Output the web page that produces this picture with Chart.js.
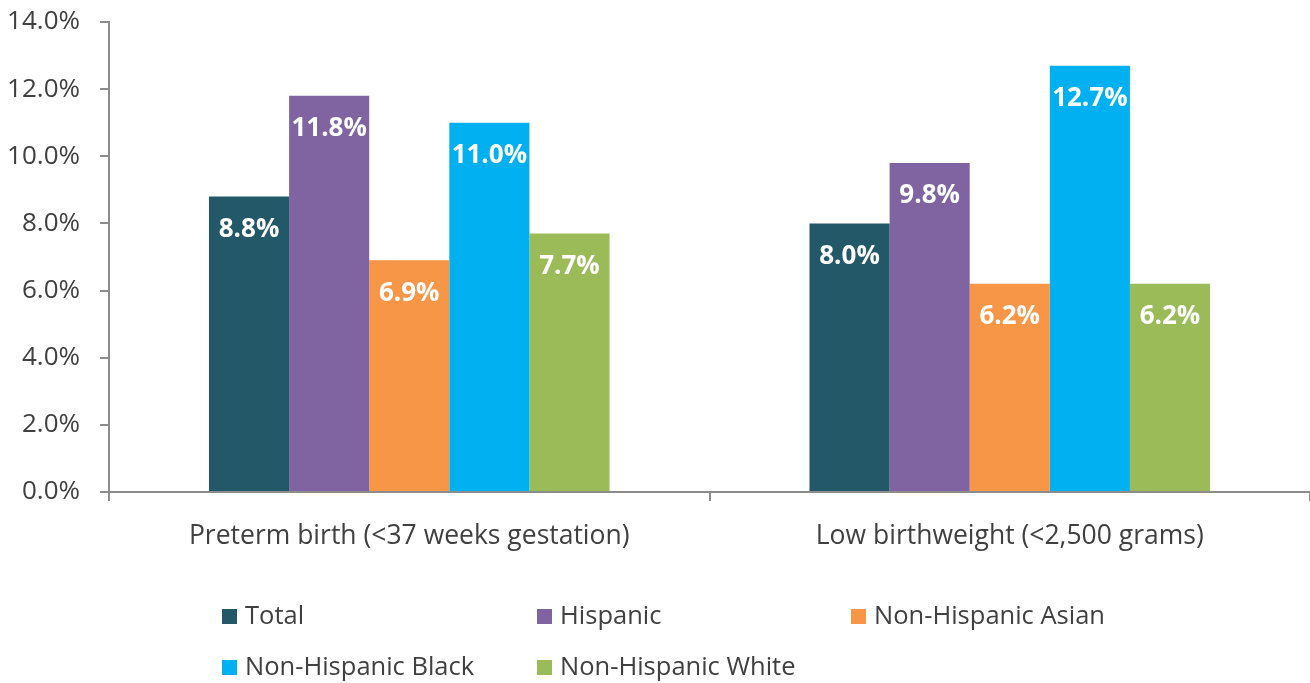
<!DOCTYPE html>
<html>
<head>
<meta charset="utf-8">
<script src="https://cdn.jsdelivr.net/npm/chart.js@4/dist/chart.umd.min.js"></script>
<style>
  body { margin:0; background:#fff; }
  #wrap { width:1310px; height:683px; }
</style>
</head>
<body>
<div id="wrap"><canvas id="birthChart" width="1310" height="683"></canvas></div>
<script>
// chart data
var categories = ['Preterm birth (<37 weeks gestation)', 'Low birthweight (<2,500 grams)'];
var seriesNames = ['Total', 'Hispanic', 'Non-Hispanic Asian', 'Non-Hispanic Black', 'Non-Hispanic White'];
var totalVals = [8.8, 8.0];
var hispanicVals = [11.8, 9.8];
var asianVals = [6.9, 6.2];
var blackVals = [11.0, 12.7];
var whiteVals = [7.7, 6.2];
var seriesColors = ['#235868', '#8064A2', '#F79646', '#00B0F0', '#9BBB59'];

var FONT = "'Open Sans', 'Noto Sans', sans-serif";
var TEXT = '#404040';
var AXIS = '#8c8c8c';

// white value labels inside bars
var barLabels = {
    id:'barLabels',
    afterDatasetsDraw:function(chart) {
        var ctx = chart.ctx;
        ctx.save();
        ctx.fillStyle = '#fff';
        ctx.font = 'bold 26px ' + FONT;
        ctx.textAlign = 'center';
        ctx.textBaseline = 'middle';
        chart.data.datasets.forEach(function(ds, i) {
            var meta = chart.getDatasetMeta(i);
            meta.data.forEach(function(bar, j) {
                ctx.fillText(ds.data[j].toFixed(1) + '%', bar.x, bar.y + 33);
            });
        });
        ctx.restore();
    }
};

// legend in a fixed grid (3 columns, 2 rows)
var gridLegend = {
    id:'gridLegend',
    afterDraw:function(chart, args, opts) {
        var ctx = chart.ctx;
        ctx.save();
        ctx.font = '25.5px ' + FONT;
        ctx.textBaseline = 'middle';
        ctx.textAlign = 'left';
        chart.data.datasets.forEach(function(ds, i) {
            var x = opts.cols[i % 3];
            var y = opts.rows[Math.floor(i / 3)];
            ctx.fillStyle = ds.backgroundColor;
            ctx.fillRect(x, y - 8, 15, 15);
            ctx.fillStyle = TEXT;
            ctx.fillText(ds.label, x + 23, y);
        });
        ctx.restore();
    }
};

var valueLists = [totalVals, hispanicVals, asianVals, blackVals, whiteVals];
var datasets = [];
for (var i = 0; i < seriesNames.length; i++) {
    datasets.push({
        label:seriesNames[i],
        data:valueLists[i],
        backgroundColor:seriesColors[i],
        borderWidth:0,
        barPercentage:1.0,
        categoryPercentage:0.667
    });
}

var birthChart = new Chart(document.getElementById('birthChart'), {
    type:'bar',
    data:{ labels:categories, datasets:datasets },
    plugins:[barLabels, gridLegend],
    options:{
        responsive:false,
        animation:false,
        layout:{ padding:{ top:22, right:0, bottom:111, left:0 } },
        plugins:{
            legend:{ display:false },
            tooltip:{ enabled:false },
            gridLegend:{ cols:[222, 537, 851], rows:[617, 668] }
        },
        scales:{
            x:{
                afterFit:function(scale) { scale.height = 80; },
                grid:{ display:true, drawOnChartArea:false, offset:true, color:AXIS, tickLength:9, lineWidth:2 },
                border:{ color:AXIS, width:2 },
                ticks:{ color:TEXT, font:{ family:FONT, size:26.5 }, padding:20, maxRotation:0 }
            },
            y:{
                min:0,
                max:14,
                afterFit:function(scale) {
                    scale.width = 109;
                    scale.paddingTop = 0;
                    scale.paddingBottom = 0;
                },
                grid:{ display:true, drawOnChartArea:false, color:AXIS, tickLength:9, lineWidth:2 },
                border:{ color:AXIS, width:2 },
                ticks:{
                    stepSize:2,
                    color:TEXT,
                    padding:20,
                    font:{ family:FONT, size:26 },
                    callback:function(v) { return v.toFixed(1) + '%'; }
                }
            }
        }
    }
});
</script>
</body>
</html>
